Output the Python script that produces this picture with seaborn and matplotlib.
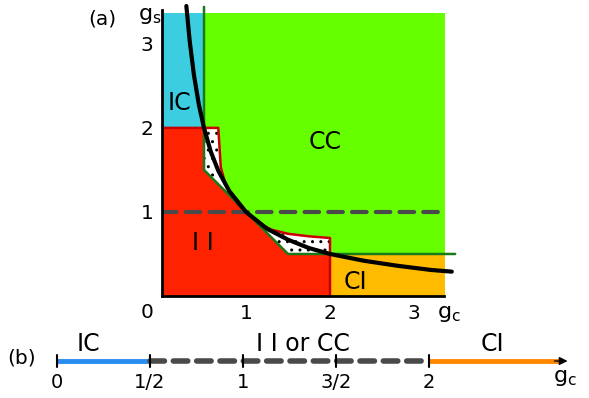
import matplotlib.pyplot as plt
import seaborn as sns

# phase diagram values
curve_gc = [0.29, 0.33, 0.38, 0.44, 0.5, 0.58, 0.67, 0.8, 1.0, 1.25, 1.5, 1.75, 2.0, 2.4, 2.8, 3.2, 3.45]
curve_gs = [3.45, 3.03, 2.63, 2.27, 2.0, 1.72, 1.49, 1.25, 1.0, 0.8, 0.67, 0.57, 0.5, 0.42, 0.36, 0.31, 0.29]

ic_gc = [0, 0.5, 0.5, 0]
ic_gs = [2, 2, 3.37, 3.37]
cc_gc = [0.5, 3.37, 3.37, 0.5]
cc_gs = [0.5, 0.5, 3.37, 3.37]
ci_gc = [2, 3.37, 3.37, 2]
ci_gs = [0, 0, 0.5, 0.5]
ii_gc = [0, 2, 2, 1.5, 1.0, 0.5, 0.5, 0]
ii_gs = [0, 0, 0.5, 0.5, 1.0, 1.5, 2, 2]

# white lobes between the II boundary and the CC boundary
lobe1_gc = [0.5, 0.67, 0.7, 0.75, 0.82, 0.9, 1.0, 0.5]
lobe1_gs = [2, 2, 1.53, 1.35, 1.2, 1.09, 1.0, 1.5]
lobe2_gc = [1.0, 1.15, 1.3, 1.5, 1.75, 2.0, 2.0, 1.5]
lobe2_gs = [1.0, 0.87, 0.79, 0.74, 0.71, 0.69, 0.5, 0.5]

# red and green boundaries
red_gc = [0, 0.67, 0.7, 0.75, 0.82, 0.9, 1.0, 1.15, 1.3, 1.5, 1.75, 2.0, 2.0]
red_gs = [2, 2, 1.53, 1.35, 1.2, 1.09, 1.0, 0.87, 0.79, 0.74, 0.71, 0.69, 0]
green_gc = [0.5, 0.5, 1.0, 1.5, 3.49]
green_gs = [3.44, 1.5, 1.0, 0.5, 0.5]

ticks = [1, 2, 3]

# panel (b)
b_ticks = [0, 0.5, 1, 1.5, 2]
b_labels = ['0', '1/2', '1', '3/2', '2']
ic_seg = [0, 0.5]
mid_seg = [0.5, 2]
ci_seg = [2, 2.7]

sns.set_style('white')
plt.rcParams['font.family'] = ['DejaVu Sans']
plt.rcParams['text.color'] = 'black'
plt.rcParams['xtick.color'] = 'black'
plt.rcParams['ytick.color'] = 'black'

fig = plt.figure(figsize=(5.89, 3.98), dpi=100)
ax = fig.add_axes([162 / 589, 102 / 398, 294 / 589, 290 / 398])

ax.fill(cc_gc, cc_gs, color='#66ff00', lw=0)
ax.fill(ic_gc, ic_gs, color='#3ccde0', lw=0)
ax.fill(ci_gc, ci_gs, color='#ffbb00', lw=0)
ax.fill(ii_gc, ii_gs, color='#ff2200', lw=0)
for lx, ly in [(lobe1_gc, lobe1_gs), (lobe2_gc, lobe2_gs)]:
    ax.fill(lx, ly, facecolor='white', edgecolor='black', lw=0, hatch='..')
ax.plot(red_gc, red_gs, color='#c80000', lw=1.8)
ax.plot(green_gc, green_gs, color='#1a7a1a', lw=1.8, clip_on=False)
ax.plot([0, 3.37], [1, 1], color='#4a4a4a', lw=3, dashes=(3.5, 2.2),
        dash_capstyle='round')
sns.lineplot(x=curve_gc, y=curve_gs, color='black', lw=3, sort=False,
             ax=ax, clip_on=False)

ax.set_xlim(0, 3.5)
ax.set_ylim(0, 3.45)
sns.despine(ax=ax)
ax.spines['left'].set_bounds(0, 3.40)
ax.spines['bottom'].set_bounds(0, 3.36)
for sp in ['left', 'bottom']:
    ax.spines[sp].set_linewidth(2)
    ax.spines[sp].set_color('black')
    ax.spines[sp].set_zorder(5)
ax.set_xticks(ticks)
ax.set_yticks(ticks)
ax.tick_params(direction='in', length=6, width=1, labelsize=14.5, pad=6,
               left=True, bottom=True, color='black')
ax.text(-0.18, -0.2, '0', fontsize=14.5, ha='center', va='center')
ax.text(-0.14, 3.33, 'g$_\\mathregular{s}$', fontsize=16, ha='center', va='center')
ax.text(3.42, -0.22, 'g$_\\mathregular{c}$', fontsize=16, ha='center', va='center')
ax.text(-0.71, 3.29, '(a)', fontsize=14.5, ha='center', va='center')

ax.text(0.21, 2.3, 'IC', fontsize=17, ha='center', va='center')
ax.text(1.94, 1.83, 'CC', fontsize=17, ha='center', va='center')
ax.text(0.49, 0.63, 'I I', fontsize=17, ha='center', va='center')
ax.text(2.3, 0.17, 'CI', fontsize=17, ha='center', va='center')

# panel (b): one dimensional line
bx = fig.add_axes([0, 0, 1, 78 / 398])
bx.plot(ic_seg, [0, 0], color='#2a8cf0', lw=3.5, solid_capstyle='butt')
bx.plot(mid_seg, [0, 0], color='#4a4a4a', lw=4, dashes=(2.6, 1.6),
        dash_capstyle='round')
bx.plot(ci_seg, [0, 0], color='#ff8800', lw=3.5, solid_capstyle='butt')
bx.annotate('', xy=(2.76, 0), xytext=(2.66, 0),
            arrowprops=dict(arrowstyle='-|>', color='black', lw=1,
                            mutation_scale=12))
for t, lab in zip(b_ticks, b_labels):
    bx.plot([t, t], [-6, 6], color='black', lw=1.5)
    bx.text(t, -22, lab, fontsize=14, ha='center', va='center')
bx.text(2.73, -17, 'g$_\\mathregular{c}$', fontsize=16, ha='center', va='center')
bx.text(-0.19, 3, '(b)', fontsize=14.5, ha='center', va='center')
bx.text(0.17, 17, 'IC', fontsize=17, ha='center', va='center')
bx.text(1.32, 17, 'I I or CC', fontsize=17, ha='center', va='center')
bx.text(2.34, 17, 'CI', fontsize=17, ha='center', va='center')
bx.set_xlim(-57 / 186, 532 / 186)
bx.set_ylim(-37, 41)
bx.axis('off')

fig.savefig('out.png', dpi=100)
